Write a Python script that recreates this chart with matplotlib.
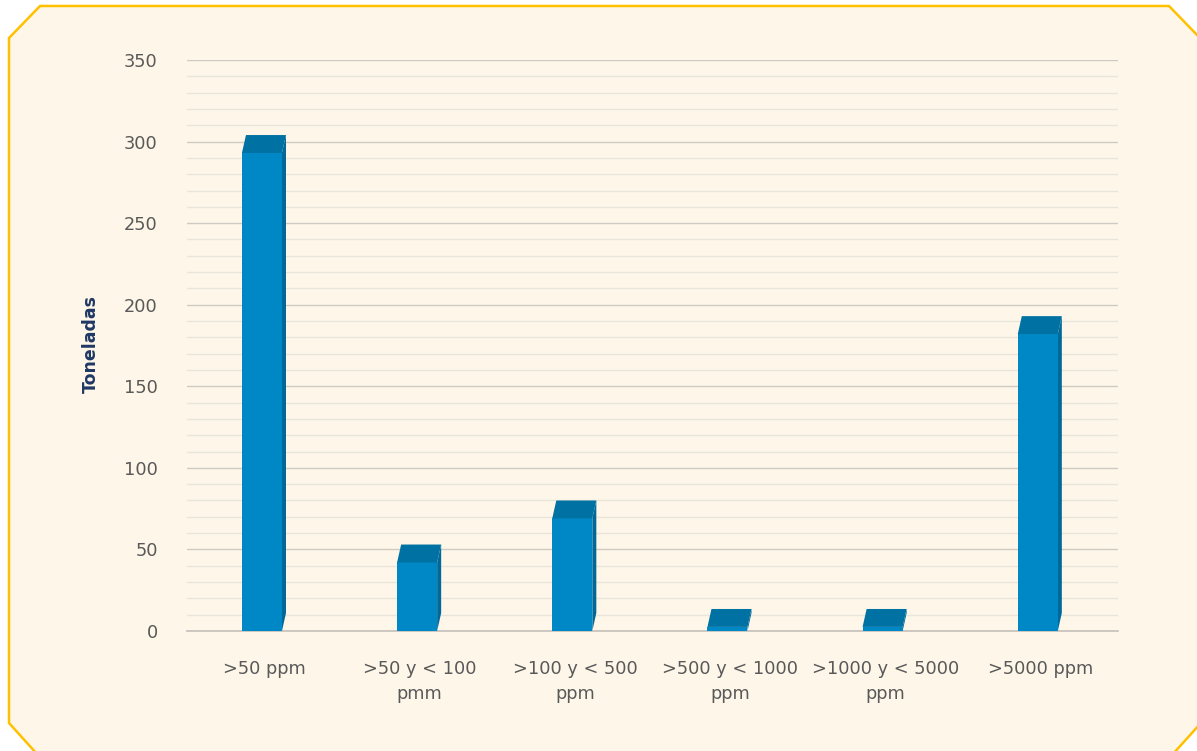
import matplotlib
matplotlib.use("Agg")
import matplotlib.pyplot as plt
from matplotlib.patches import Polygon
from matplotlib.ticker import MultipleLocator
import numpy as np

categories = [">50 ppm", ">50 y < 100\npmm", ">100 y < 500\nppm", ">500 y < 1000\nppm", ">1000 y < 5000\nppm", ">5000 ppm"]
values = [293, 42, 69, 2.5, 2.5, 182]
ylabel = "Toneladas"
yticks = [0, 50, 100, 150, 200, 250, 300, 350]

W, H = 1197, 751
fig = plt.figure(figsize=(W / 100, H / 100), dpi=100)
fig.patch.set_facecolor("white")

# frame (octagon with chamfered corners), pixel coords -> figure fraction
frame_px = [(9, 38), (40, 6), (1169, 6), (1200, 38), (1200, 724), (1173, 754), (37, 754), (9, 723)]
frame = Polygon([(x / W, 1 - y / H) for x, y in frame_px], closed=True,
                transform=fig.transFigure, facecolor="#FEF7E9", edgecolor="#FFC000",
                linewidth=1.8, zorder=-5)
fig.patches.append(frame)

ax = fig.add_axes([187 / W, 1 - 631 / H, (1118 - 187) / W, (631 - 60) / H])
ax.set_zorder(1)
ax.set_facecolor("none")
ax.set_xlim(0, len(categories))
ax.set_ylim(0, 350)

x = np.arange(len(categories)) + 0.5
bw = 0.258
dx = 0.026      # depth offset in x (category units)
dy = 11.0       # depth offset in y (data units)
xf = x - dx / 2 - 0.004

front = "#0088C6"
top = "#0071A3"
side = "#00699A"

ax.bar(xf, values, width=bw, color=front, zorder=3, linewidth=0)
for xi, v in zip(xf, values):
    l, r = xi - bw / 2, xi + bw / 2
    ax.add_patch(Polygon([(l, v), (r, v), (r + dx, v + dy), (l + dx, v + dy)],
                         closed=True, facecolor=top, edgecolor="none", zorder=4))
    ax.add_patch(Polygon([(r, 0), (r + dx, dy), (r + dx, v + dy), (r, v)],
                         closed=True, facecolor=side, edgecolor="none", zorder=2.9))

ax.yaxis.set_major_locator(MultipleLocator(50))
ax.yaxis.set_minor_locator(MultipleLocator(10))
ax.set_yticks(yticks)
ax.grid(which="major", axis="y", color="#CFCBC4", linewidth=1.0, zorder=1)
ax.grid(which="minor", axis="y", color="#E9E5DC", linewidth=1.0, zorder=1)
ax.set_axisbelow(True)

for s in ["top", "right", "left"]:
    ax.spines[s].set_visible(False)
ax.spines["bottom"].set_color("#C4C0BA")
ax.spines["bottom"].set_linewidth(1.2)
ax.spines["bottom"].set_zorder(2)

ax.set_xticks(x)
ax.set_xticklabels(categories, fontsize=12.8, color="#595959", linespacing=1.5)
ax.tick_params(axis="x", length=0, pad=21)
ax.tick_params(axis="y", which="both", length=0, pad=21, labelsize=12.8, labelcolor="#595959")

fig.text(91 / W, 1 - 344 / H, ylabel, rotation=90, fontsize=12.5, fontweight="bold",
         color="#1F3864", ha="center", va="center")

fig.savefig("out.png", dpi=100, facecolor=fig.get_facecolor())
